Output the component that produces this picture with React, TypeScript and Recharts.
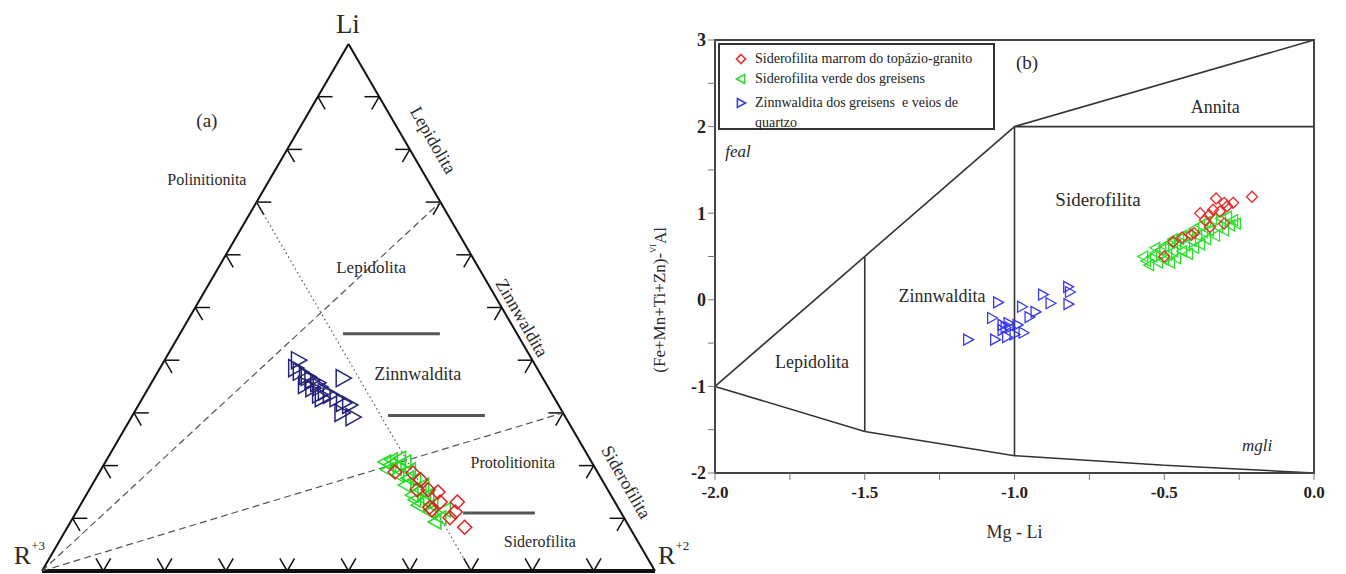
import React from 'react';
import { ScatterChart, Scatter, XAxis, YAxis, ReferenceLine, ReferenceDot, ReferenceArea, Legend } from 'recharts';

type Pt = [number, number];

const SERIF = "'Liberation Serif', 'Times New Roman', Times, 'DejaVu Serif', serif";
const H = Math.sqrt(3) / 2;

const seriesNames = [
    'Siderofilita marrom do topázio-granito',
    'Siderofilita verde dos greisens',
    'Zinnwaldita dos greisens  e veios de quartzo',
];

// (a) ternario Li - R+3 - R+2, valores em % : [R+2, Li]
const zinnTern: Pt[] = [
    [21.8, 40.0], [23.2, 37.8], [25.0, 36.8], [25.9, 36.2], [27.1, 35.7], [25.3, 35.3], [26.8, 34.7],
    [27.9, 34.9], [30.8, 36.6], [30.3, 33.4], [31.7, 32.8], [33.2, 31.9], [34.4, 31.5], [33.9, 30.0],
    [36.1, 29.2], [29.2, 34.0], [22.1, 38.5], [29.3, 32.8], [24.6, 37.0], [28.5, 33.5],
];
const verdeTern: Pt[] = [
    [45.6, 20.7], [46.5, 21.1], [48.3, 20.1], [48.9, 20.7], [46.8, 19.2], [49.0, 18.2], [50.4, 19.2],
    [52.2, 17.3], [51.1, 16.3], [54.0, 15.4], [53.2, 14.4], [55.7, 13.5], [55.1, 12.5], [57.7, 11.2],
    [59.9, 10.1], [59.5, 9.3], [54.0, 16.3], [47.9, 19.5], [50.9, 17.6], [55.8, 14.4], [59.9, 11.6],
    [47.7, 21.4], [46.7, 20.1], [54.1, 13.5], [57.4, 12.5],
];
const marromTern: Pt[] = [
    [48.2, 18.8], [51.2, 18.6], [53.5, 15.4], [55.3, 15.4], [57.1, 15.0], [58.4, 13.1], [57.8, 11.6],
    [61.2, 13.1], [61.8, 11.2], [61.5, 10.1], [64.8, 8.3], [57.2, 12.1], [53.1, 17.3],
];

// linhas do ternario: [R+2, Li]
const tracejadas: Pt[][] = [[[0, 0], [30, 70]], [[0, 0], [70, 30]]];
const pontilhada: Pt[] = [[0, 70], [70, 0]];
const barras: Pt[][] = [[[26.6, 45], [42.4, 45]], [[41.7, 29.5], [57.5, 29.5]], [[63.2, 11], [74.9, 11]]];
const tickSteps = [10, 20, 30, 40, 50, 60, 70, 80, 90];

// (b) Mg-Li x (Fe+Mn+Ti+Zn)-VIAl
const marromBin: Pt[] = [
    [-0.207, 1.19], [-0.327, 1.17], [-0.30, 1.12], [-0.27, 1.12], [-0.337, 1.04], [-0.314, 1.02],
    [-0.38, 1.0], [-0.364, 0.92], [-0.347, 0.84], [-0.30, 0.88], [-0.40, 0.77], [-0.47, 0.67],
    [-0.50, 0.50], [-0.41, 0.75], [-0.29, 1.08], [-0.35, 0.98], [-0.44, 0.72],
];
const verdeBin: Pt[] = [
    [-0.56, 0.45], [-0.55, 0.40], [-0.54, 0.50], [-0.53, 0.54], [-0.52, 0.43], [-0.51, 0.58], [-0.50, 0.46],
    [-0.50, 0.62], [-0.49, 0.52], [-0.48, 0.66], [-0.48, 0.43], [-0.47, 0.56], [-0.46, 0.64], [-0.46, 0.48],
    [-0.45, 0.70], [-0.44, 0.56], [-0.44, 0.74], [-0.43, 0.63], [-0.42, 0.76], [-0.42, 0.53], [-0.41, 0.68],
    [-0.40, 0.82], [-0.40, 0.60], [-0.39, 0.74], [-0.38, 0.86], [-0.38, 0.64], [-0.37, 0.78], [-0.36, 0.90],
    [-0.36, 0.70], [-0.35, 0.80], [-0.34, 0.93], [-0.33, 0.74], [-0.32, 0.84], [-0.31, 0.94], [-0.30, 0.80],
    [-0.29, 0.96], [-0.28, 0.86], [-0.27, 0.92], [-0.26, 0.88], [-0.53, 0.60], [-0.57, 0.50], [-0.47, 0.70],
];
const zinnBin: Pt[] = [
    [-1.155, -0.46], [-1.065, -0.46], [-1.025, -0.43], [-0.97, -0.38], [-1.04, -0.35], [-1.015, -0.32],
    [-0.99, -0.29], [-1.04, -0.29], [-1.075, -0.21], [-1.055, -0.03], [-0.975, -0.08], [-0.905, 0.06],
    [-0.821, 0.15], [-0.815, 0.09], [-0.93, -0.14], [-0.88, -0.04], [-0.82, -0.05], [-1.0, -0.40],
    [-1.03, -0.32], [-0.95, -0.20], [-1.02, -0.27],
];

const limiteSuperior: Pt[] = [[-2, -1], [-1, 2], [0, 3]];
const limiteInferior: Pt[] = [[-2, -1], [-1.5, -1.52], [-1, -1.8], [-0.5, -1.91], [0, -2]];
const limiteAnnita: Pt[] = [[-1, 2], [0, 2]];
const limiteSiderofilita: Pt[] = [[-1, 2], [-1, -1.8]];
const limiteLepidolita: Pt[] = [[-1.5, 0.5], [-1.5, -1.52]];

const xTicks = [-2, -1.75, -1.5, -1.25, -1, -0.75, -0.5, -0.25, 0];
const yTicks = [-2, -1.5, -1, -0.5, 0, 0.5, 1, 1.5, 2, 2.5, 3];

interface Tag {
    x: number;
    y: number;
    text: string;
    size: number;
    rotate?: number;
    italic?: boolean;
    anchor?: 'start' | 'middle' | 'end';
    sup?: string;
    after?: string;
}

const tagsA: Tag[] = [
    { x: 49.9, y: 89.9, text: 'Li', size: 27 },
    { x: -4.6, y: 2.5, text: 'R', sup: '+3', size: 26, anchor: 'start' },
    { x: 100.5, y: 2.5, text: 'R', sup: '+2', size: 26, anchor: 'start' },
    { x: 26.9, y: 74.1, text: '(a)', size: 19 },
    { x: 26.9, y: 64.3, text: 'Polinitionita', size: 16 },
    { x: 63.8, y: 70.8, text: 'Lepidolita', size: 18, rotate: 60 },
    { x: 53.7, y: 49.8, text: 'Lepidolita', size: 17 },
    { x: 78.3, y: 41.6, text: 'Zinnwaldita', size: 18, rotate: 60 },
    { x: 61.3, y: 32.4, text: 'Zinnwaldita', size: 18 },
    { x: 95.3, y: 14.6, text: 'Siderofilita', size: 18, rotate: 60 },
    { x: 76.8, y: 17.9, text: 'Protolitionita', size: 16 },
    { x: 81.2, y: 4.9, text: 'Siderofilita', size: 16 },
];

const tagsB: Tag[] = [
    { x: -0.33, y: 2.23, text: 'Annita', size: 18 },
    { x: -0.721, y: 1.155, text: 'Siderofilita', size: 19 },
    { x: -1.242, y: 0.046, text: 'Zinnwaldita', size: 18 },
    { x: -1.676, y: -0.716, text: 'Lepidolita', size: 18 },
    { x: -1.923, y: 1.71, text: 'feal', size: 17, italic: true },
    { x: -0.19, y: -1.686, text: 'mgli', size: 17, italic: true },
    { x: -0.958, y: 2.74, text: '(b)', size: 19 },
    { x: -1.0, y: -2.68, text: 'Mg - Li', size: 18 },
    { x: -2.184, y: 0, text: '(Fe+Mn+Ti+Zn)-', sup: 'VI', after: 'Al', size: 17, rotate: -90 },
];

const toXY = ([r2, li]: Pt) => ({ x: r2 + li / 2, y: li * H });
const toObj = ([x, y]: Pt) => ({ x, y });

const renderTag = (t: Tag) => (p: any) => {
    const vb = p.viewBox || {};
    const x = vb.x ?? 0;
    const y = vb.y ?? 0;
    return (
        <text
            x={x}
            y={y}
            textAnchor={t.anchor ?? 'middle'}
            dominantBaseline="central"
            style={{ fontFamily: SERIF, fontSize: t.size, fontStyle: t.italic ? 'italic' : 'normal' }}
            fill="#2a2a2a"
            transform={t.rotate ? `rotate(${t.rotate} ${x} ${y})` : undefined}
        >
            {t.text}
            {t.sup && <tspan dy={-t.size * 0.4} style={{ fontSize: t.size * 0.5 }}>{t.sup}</tspan>}
            {t.after && <tspan dy={t.size * 0.4}>{t.after}</tspan>}
        </text>
    );
};

const makeShape = (kind: 'diamond' | 'left' | 'right', color: string, r: number, sw: number) => (props: any) => {
    const { cx, cy } = props;
    if (cx == null || cy == null) return <g />;
    let pts = '';
    if (kind === 'diamond') pts = `${cx},${cy - r} ${cx + r},${cy} ${cx},${cy + r} ${cx - r},${cy}`;
    else if (kind === 'left') pts = `${cx - r},${cy} ${cx + r * 0.8},${cy - r} ${cx + r * 0.8},${cy + r}`;
    else pts = `${cx + r},${cy} ${cx - r * 0.8},${cy - r} ${cx - r * 0.8},${cy + r}`;
    return <polygon points={pts} fill="none" stroke={color} strokeWidth={sw} />;
};

// segmentos dos ticks do ternario, em coordenadas cartesianas
const TL = 2.4;
const ternTicks: Array<[{ x: number; y: number }, { x: number; y: number }]> = [];
tickSteps.forEach((t) => {
    const l = { x: t / 2, y: t * H };
    ternTicks.push([l, { x: l.x + TL, y: l.y }], [l, { x: l.x + TL * 0.5, y: l.y - TL * H }]);
    const r = { x: 100 - t / 2, y: t * H };
    ternTicks.push([r, { x: r.x - TL, y: r.y }], [r, { x: r.x - TL * 0.5, y: r.y - TL * H }]);
    const b = { x: t, y: 0 };
    ternTicks.push([b, { x: b.x - TL * 0.5, y: TL * H }], [b, { x: b.x + TL * 0.5, y: TL * H }]);
});

const polySegs = (pts: Pt[]) =>
    pts.slice(1).map((p, i) => [toObj(pts[i]), toObj(p)] as [{ x: number; y: number }, { x: number; y: number }]);

const legendMarkers = [
    { kind: 'diamond', color: '#e8312e' },
    { kind: 'left', color: '#2fd62f' },
    { kind: 'right', color: '#2f3fe8' },
];

const LegendBox = () => (
    <div
        style={{
            border: '2px solid #333',
            background: '#fff',
            padding: '4px 6px 0 14px',
            fontFamily: SERIF,
            fontSize: 14,
            color: '#222',
            lineHeight: '20px',
            boxSizing: 'border-box',
            width: 277,
            height: 87,
            textAlign: 'left',
        }}
    >
        {seriesNames.map((name, i) => (
            <div key={name} style={{ display: 'flex', alignItems: 'flex-start', marginTop: i === 2 ? 4 : 0 }}>
                <svg width={14} height={20} style={{ flex: 'none', marginRight: 7 }}>
                    {makeShape(legendMarkers[i].kind as any, legendMarkers[i].color, 4.5, 1.6)({ cx: 7, cy: 10 })}
                </svg>
                <span style={{ maxWidth: 234, whiteSpace: 'pre-wrap' }}>{name}</span>
            </div>
        ))}
    </div>
);

const TernaryChart = () => (
    <ScatterChart width={700} height={574} margin={{ top: 44, right: 45, bottom: 3, left: 42 }}>
        <XAxis type="number" dataKey="x" domain={[0, 100]} hide allowDataOverflow />
        <YAxis type="number" dataKey="y" domain={[0, 100 * H]} hide allowDataOverflow />
        <ReferenceLine segment={[{ x: 0, y: 0 }, { x: 50, y: 100 * H }]} stroke="#111" strokeWidth={2} ifOverflow="visible" />
        <ReferenceLine segment={[{ x: 100, y: 0 }, { x: 50, y: 100 * H }]} stroke="#111" strokeWidth={2} ifOverflow="visible" />
        <ReferenceLine segment={[{ x: 0, y: 0 }, { x: 100, y: 0 }]} stroke="#111" strokeWidth={4} ifOverflow="visible" />
        {ternTicks.map((s, i) => (
            <ReferenceLine key={`t${i}`} segment={s} stroke="#111" strokeWidth={1.5} ifOverflow="visible" />
        ))}
        {tracejadas.map((s, i) => (
            <ReferenceLine key={`d${i}`} segment={[toXY(s[0]), toXY(s[1])]} stroke="#555" strokeWidth={1.2} strokeDasharray="7 4" ifOverflow="visible" />
        ))}
        <ReferenceLine segment={[toXY(pontilhada[0]), toXY(pontilhada[1])]} stroke="#555" strokeWidth={1.2} strokeDasharray="1.5 3" ifOverflow="visible" />
        {barras.map((s, i) => (
            <ReferenceLine key={`b${i}`} segment={[toXY(s[0]), toXY(s[1])]} stroke="#555" strokeWidth={3} ifOverflow="visible" />
        ))}
        <Scatter name={seriesNames[1]} data={verdeTern.map(toXY)} isAnimationActive={false} shape={makeShape('left', '#22dd22', 7, 1.5)} />
        <Scatter name={seriesNames[0]} data={marromTern.map(toXY)} isAnimationActive={false} shape={makeShape('diamond', '#e02020', 7, 1.5)} />
        <Scatter name={seriesNames[2]} data={zinnTern.map(toXY)} isAnimationActive={false} shape={makeShape('right', '#25237a', 8.5, 1.5)} />
        {tagsA.map((t, i) => (
            <ReferenceDot key={`a${i}`} x={t.x} y={t.y} r={0} ifOverflow="visible" label={renderTag(t)} />
        ))}
    </ScatterChart>
);

const BinaryChart = () => (
    <ScatterChart width={706} height={574} margin={{ top: 40, right: 32, bottom: 41, left: 15 }}>
        <XAxis
            type="number"
            dataKey="x"
            domain={[-2, 0]}
            ticks={xTicks}
            height={60}
            allowDataOverflow
            tickFormatter={(v: number) => (Math.abs(v * 2 - Math.round(v * 2)) < 1e-9 ? v.toFixed(1) : '')}
            tick={{ fontFamily: SERIF, fontSize: 17, fill: '#222', fontWeight: 'bold' }}
            axisLine={{ stroke: '#444', strokeWidth: 2 }}
            tickLine={{ stroke: '#777' }}
            tickSize={7}
            tickMargin={6}
        />
        <YAxis
            type="number"
            dataKey="y"
            domain={[-2, 3]}
            ticks={yTicks}
            width={60}
            allowDataOverflow
            tickFormatter={(v: number) => (Number.isInteger(v) ? String(v) : '')}
            tick={{ fontFamily: SERIF, fontSize: 18, fill: '#222', fontWeight: 'bold' }}
            axisLine={{ stroke: '#444', strokeWidth: 2 }}
            tickLine={{ stroke: '#777' }}
            tickSize={7}
        />
        <ReferenceArea x1={-2} x2={0} y1={-2} y2={3} fill="none" stroke="#444" strokeWidth={2} />
        {[limiteSuperior, limiteInferior, limiteAnnita, limiteSiderofilita, limiteLepidolita].flatMap((poly, j) =>
            polySegs(poly).map((s, i) => (
                <ReferenceLine key={`l${j}-${i}`} segment={s} stroke="#333" strokeWidth={1.6} ifOverflow="visible" />
            ))
        )}
        <Scatter name={seriesNames[2]} data={zinnBin.map(toObj)} isAnimationActive={false} shape={makeShape('right', '#3a3aee', 5.5, 1.3)} />
        <Scatter name={seriesNames[1]} data={verdeBin.map(toObj)} isAnimationActive={false} shape={makeShape('left', '#2ee02e', 5.5, 1.3)} />
        <Scatter name={seriesNames[0]} data={marromBin.map(toObj)} isAnimationActive={false} shape={makeShape('diamond', '#e82a2a', 5.5, 1.3)} />
        {tagsB.map((t, i) => (
            <ReferenceDot key={`b${i}`} x={t.x} y={t.y} r={0} ifOverflow="visible" label={renderTag(t)} />
        ))}
        <Legend
            layout="vertical"
            align="center"
            verticalAlign="middle"
            content={LegendBox}
            wrapperStyle={{ left: 78, top: 43, width: 277 }}
        />
    </ScatterChart>
);

export default function App() {
    return (
        <div style={{ position: 'absolute', left: 0, top: 0, width: 1346, height: 574, background: '#fff', overflow: 'hidden' }}>
            <div style={{ position: 'absolute', left: 0, top: 0 }}>
                <TernaryChart />
            </div>
            <div style={{ position: 'absolute', left: 640, top: 0 }}>
                <BinaryChart />
            </div>
        </div>
    );
}
